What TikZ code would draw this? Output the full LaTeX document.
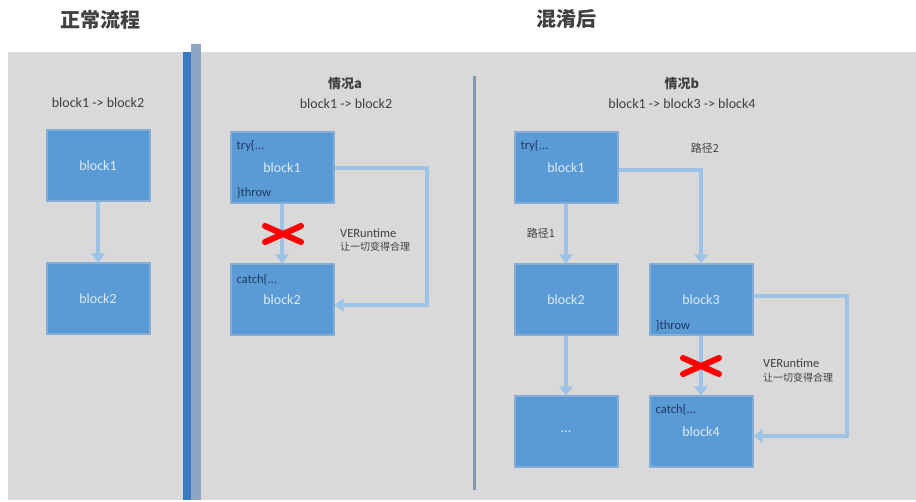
\documentclass[tikz,border=0pt]{standalone}
\usepackage{fontspec}
\setmainfont{Carlito}
\newfontfamily\cjk{Noto Sans CJK SC}
\usetikzlibrary{arrows.meta,calc}
\definecolor{panel}{HTML}{D9D9D9}
\definecolor{boxfill}{HTML}{5B9BD5}
\definecolor{boxedge}{HTML}{85ADD6}
\definecolor{arrowc}{HTML}{9DC3E6}
\definecolor{txt}{HTML}{404040}
\definecolor{intxt}{HTML}{1F3864}
\definecolor{wtxt}{HTML}{DDEBF7}
\definecolor{barA}{HTML}{3A7BC0}
\definecolor{barB}{HTML}{8EA6C6}
\definecolor{divc}{HTML}{8497B0}
\tikzset{
  box/.style={draw=boxedge, line width=2pt, fill=boxfill, minimum width=103pt, minimum height=71pt, inner sep=0pt, text=wtxt, font=\fontsize{14}{16}\selectfont},
  corner/.style={text=intxt, font=\fontsize{12.5}{14}\selectfont, inner sep=0pt, anchor=west},
  lbl/.style={text=txt, font=\fontsize{14}{16}\selectfont, inner sep=0pt},
  hdr/.style={text=txt, font=\cjk\bfseries\fontsize{13}{15}\selectfont, inner sep=0pt},
  clbl/.style={text=txt, font=\cjk\fontsize{11}{13}\selectfont, inner sep=0pt},
  vlbl/.style={text=txt, font=\fontsize{12.5}{14}\selectfont, inner sep=0pt, anchor=west},
  vcjk/.style={text=txt, font=\cjk\fontsize{10}{12}\selectfont, inner sep=0pt, anchor=west},
  title/.style={text=txt, font=\cjk\bfseries\fontsize{20}{24}\selectfont, inner sep=0pt},
  conn/.style={draw=arrowc, line width=3.5pt, -{Triangle[length=9pt,width=13pt]}},
  xmark/.style={draw=red, line width=6pt, line cap=round}
}
\begin{document}
\begin{tikzpicture}[x=1pt,y=-1pt]
\useasboundingbox (0,0) rectangle (916,502);
\fill[white] (0,0) rectangle (916,502);
\fill[panel] (8,52) rectangle (916,500);
% titles
\node[title] (t1) at (100,20) {正常流程};
\node[title] (t2) at (566,19) {混淆后};
% bars
\fill[barB] (191,44) rectangle (201,500);
\fill[barA] (183,52) rectangle (191,500);
\draw[divc, line width=3pt] (474,76) -- (474,490);
% left section
\node[lbl] (l0) at (98,103) {block1 -> block2};
\node[box] (n1) at (98,166) {block1};
\node[box] (n2) at (98,299) {block2};
\draw[conn] (n1.south) -- (n2.north);
% middle section
\node[hdr] (m0) at (345,84) {情况a};
\node[lbl] (m1) at (346,104) {block1 -> block2};
\node[box] (a1) at (282,168) {block1};
\node[box] (a2) at (282,300) {block2};
\node[corner] (a1t) at ($(a1.north west)+(7,14)$) {try\{...};
\node[corner] (a1b) at ($(a1.south west)+(7,-12)$) {\}throw};
\node[corner] (a2t) at ($(a2.north west)+(7,16)$) {catch\{...};
\draw[conn] (a1.south) -- (a2.north);
\coordinate (ra) at (427,0);
\draw[conn] (a1.east) -- (a1.east -| ra) -- ($(a2.east -| ra)+(0,5)$) -- ($(a2.east)+(0,5)$);
\node[vlbl] (va) at (340,233) {VERuntime};
\node[vcjk] (vb) at (340,247) {让一切变得合理};
\coordinate (xa) at (283,234);
\draw[xmark] ($(xa)+(-18,-8)$) -- ($(xa)+(18,8)$);
\draw[xmark] ($(xa)+(-18,8)$) -- ($(xa)+(18,-8)$);
% right section
\node[hdr] (r0) at (682,84) {情况b};
\node[lbl] (r1) at (682,104) {block1 -> block3 -> block4};
\node[box] (b1) at (566,168) {block1};
\node[box] (b2) at (566,300) {block2};
\node[box] (b5) at (566,432) {...};
\node[box] (b3) at (701,300) {block3};
\node[box] (b4) at (701,432) {block4};
\node[corner] (b1t) at ($(b1.north west)+(7,14)$) {try\{...};
\node[corner] (b3b) at ($(b3.south west)+(7,-11)$) {\}throw};
\node[corner] (b4t) at ($(b4.north west)+(7,14)$) {catch\{...};
\draw[conn] (b1.south) -- (b2.north);
\draw[conn] ($(b1.east)+(0,2)$) -| (b3.north);
\draw[conn] (b2.south) -- (b5.north);
\draw[conn] (b3.south) -- (b4.north);
\coordinate (rb) at (847,0);
\draw[conn] ($(b3.east)+(0,-4)$) -- ($(b3.east -| rb)+(0,-4)$) -- ($(b4.east -| rb)+(0,4)$) -- ($(b4.east)+(0,4)$);
\node[clbl] (p1) at (541,233) {路径1};
\node[clbl] (p2) at (705,148) {路径2};
\node[vlbl] (vc) at (763,363) {VERuntime};
\node[vcjk] (vd) at (763,378) {让一切变得合理};
\coordinate (xb) at (701,366);
\draw[xmark] ($(xb)+(-18,-8)$) -- ($(xb)+(18,8)$);
\draw[xmark] ($(xb)+(-18,8)$) -- ($(xb)+(18,-8)$);
\end{tikzpicture}
\end{document}
